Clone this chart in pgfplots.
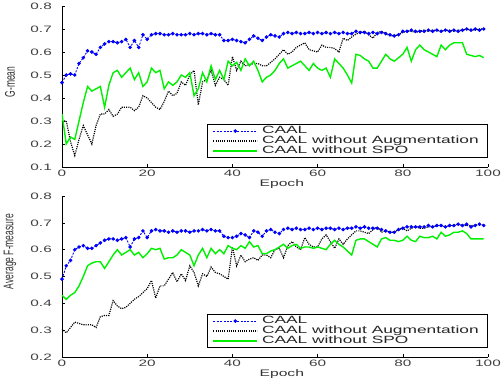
\documentclass[border=0pt]{standalone}
\usepackage{pgfplots}
\usepackage{pgfplotstable}
\pgfplotsset{compat=1.18}
\usepackage{fontspec}
\setmainfont{Liberation Sans}[FakeStretch=1.65]
\newfontfamily\ylabfont{Liberation Sans}
\definecolor{cblue}{RGB}{0,0,255}
\definecolor{cgreen}{RGB}{0,240,0}

\pgfplotstableread{
x y
0 0.467
1 0.50
2 0.505
3 0.50
4 0.55
5 0.575
6 0.605
7 0.60
8 0.59
9 0.62
10 0.635
11 0.645
12 0.645
13 0.64
14 0.645
15 0.655
16 0.62
17 0.65
18 0.62
19 0.675
20 0.655
21 0.675
22 0.68
23 0.68
24 0.675
25 0.675
26 0.68
27 0.675
28 0.675
29 0.675
30 0.68
31 0.675
32 0.68
33 0.68
34 0.675
35 0.68
36 0.675
37 0.675
38 0.65
39 0.65
40 0.655
41 0.65
42 0.645
43 0.64
44 0.655
45 0.67
46 0.66
47 0.65
48 0.665
49 0.675
50 0.67
51 0.665
52 0.68
53 0.685
54 0.68
55 0.685
56 0.68
57 0.68
58 0.685
59 0.68
60 0.685
61 0.68
62 0.685
63 0.68
64 0.685
65 0.68
66 0.685
67 0.68
68 0.68
69 0.69
70 0.685
71 0.685
72 0.68
73 0.685
74 0.68
75 0.685
76 0.68
77 0.675
78 0.67
79 0.675
80 0.69
81 0.69
82 0.695
83 0.69
84 0.69
85 0.69
86 0.695
87 0.69
88 0.695
89 0.69
90 0.695
91 0.69
92 0.695
93 0.69
94 0.695
95 0.70
96 0.695
97 0.70
98 0.695
99 0.70
}\gblue

\pgfplotstableread{
x y
0 0.30
1 0.30
2 0.21
3 0.15
4 0.22
5 0.28
6 0.24
7 0.20
8 0.28
9 0.33
10 0.33
11 0.35
12 0.32
13 0.33
14 0.36
15 0.36
16 0.36
17 0.345
18 0.36
19 0.41
20 0.40
21 0.38
22 0.36
23 0.35
24 0.385
25 0.43
26 0.41
27 0.42
28 0.47
29 0.455
30 0.50
31 0.52
32 0.37
33 0.47
34 0.48
35 0.52
36 0.455
37 0.49
38 0.48
39 0.455
40 0.58
41 0.52
42 0.56
43 0.54
44 0.545
45 0.55
46 0.55
47 0.54
48 0.54
49 0.555
50 0.57
51 0.59
52 0.61
53 0.59
54 0.60
55 0.62
56 0.63
57 0.64
58 0.61
59 0.605
60 0.60
61 0.63
62 0.62
63 0.62
64 0.615
65 0.60
66 0.66
67 0.65
68 0.665
69 0.678
70 0.685
71 0.69
72 0.675
73 0.66
74 0.685
75 0.69
76 0.68
77 0.67
78 0.67
79 0.675
80 0.685
81 0.69
82 0.69
83 0.685
84 0.69
85 0.695
86 0.69
87 0.695
88 0.695
89 0.69
90 0.695
91 0.695
92 0.69
93 0.695
94 0.695
95 0.70
96 0.695
97 0.695
98 0.70
99 0.70
}\gblack

\pgfplotstableread{
x y
0 0.33
1 0.20
2 0.23
3 0.22
4 0.30
5 0.38
6 0.45
7 0.43
8 0.44
9 0.45
10 0.36
11 0.455
12 0.51
13 0.52
14 0.49
15 0.51
16 0.53
17 0.48
18 0.51
19 0.45
20 0.47
21 0.53
22 0.51
23 0.52
24 0.44
25 0.47
26 0.455
27 0.47
28 0.50
29 0.49
30 0.51
31 0.41
32 0.44
33 0.51
34 0.47
35 0.54
36 0.48
37 0.52
38 0.48
39 0.56
40 0.54
41 0.555
42 0.52
43 0.57
44 0.54
45 0.56
46 0.52
47 0.47
48 0.49
49 0.50
50 0.52
51 0.55
52 0.57
53 0.53
54 0.54
55 0.55
56 0.56
57 0.54
58 0.52
59 0.55
60 0.53
61 0.52
62 0.53
63 0.49
64 0.57
65 0.55
66 0.53
67 0.50
68 0.465
69 0.59
70 0.585
71 0.57
72 0.56
73 0.53
74 0.53
75 0.56
76 0.59
77 0.57
78 0.56
79 0.575
80 0.59
81 0.62
82 0.56
83 0.61
84 0.63
85 0.61
86 0.60
87 0.59
88 0.58
89 0.63
90 0.61
91 0.63
92 0.64
93 0.64
94 0.64
95 0.59
96 0.585
97 0.58
98 0.585
99 0.575
}\ggreen

\pgfplotstableread{
x y
0 0.49
1 0.54
2 0.56
3 0.60
4 0.61
5 0.615
6 0.605
7 0.605
8 0.615
9 0.625
10 0.635
11 0.64
12 0.64
13 0.635
14 0.64
15 0.645
16 0.61
17 0.64
18 0.645
19 0.67
20 0.645
21 0.67
22 0.675
23 0.67
24 0.67
25 0.665
26 0.67
27 0.665
28 0.67
29 0.67
30 0.665
31 0.67
32 0.67
33 0.675
34 0.67
35 0.675
36 0.67
37 0.67
38 0.65
39 0.645
40 0.645
41 0.65
42 0.66
43 0.655
44 0.645
45 0.67
46 0.665
47 0.65
48 0.67
49 0.675
50 0.665
51 0.66
52 0.675
53 0.68
54 0.675
55 0.68
56 0.675
57 0.675
58 0.68
59 0.675
60 0.68
61 0.675
62 0.68
63 0.68
64 0.675
65 0.68
66 0.675
67 0.68
68 0.68
69 0.685
70 0.68
71 0.685
72 0.68
73 0.68
74 0.68
75 0.675
76 0.67
77 0.665
78 0.665
79 0.675
80 0.68
81 0.685
82 0.685
83 0.685
84 0.685
85 0.685
86 0.69
87 0.685
88 0.69
89 0.69
90 0.685
91 0.69
92 0.69
93 0.695
94 0.69
95 0.695
96 0.685
97 0.69
98 0.695
99 0.69
}\fblue

\pgfplotstableread{
x y
0 0.305
1 0.29
2 0.31
3 0.33
4 0.325
5 0.32
6 0.32
7 0.32
8 0.31
9 0.35
10 0.355
11 0.355
12 0.41
13 0.39
14 0.38
15 0.385
16 0.40
17 0.415
18 0.425
19 0.44
20 0.455
21 0.485
22 0.42
23 0.465
24 0.465
25 0.49
26 0.515
27 0.48
28 0.51
29 0.485
30 0.54
31 0.515
32 0.465
33 0.51
34 0.50
35 0.535
36 0.515
37 0.51
38 0.50
39 0.49
40 0.61
41 0.54
42 0.58
43 0.555
44 0.565
45 0.57
46 0.56
47 0.58
48 0.58
49 0.57
50 0.60
51 0.605
52 0.57
53 0.615
54 0.63
55 0.61
56 0.60
57 0.645
58 0.62
59 0.61
60 0.61
61 0.64
62 0.655
63 0.63
64 0.605
65 0.64
66 0.62
67 0.64
68 0.655
69 0.67
70 0.67
71 0.665
72 0.66
73 0.675
74 0.685
75 0.665
76 0.67
77 0.665
78 0.665
79 0.675
80 0.68
81 0.67
82 0.68
83 0.685
84 0.68
85 0.68
86 0.685
87 0.685
88 0.69
89 0.69
90 0.685
91 0.69
92 0.69
93 0.695
94 0.69
95 0.69
96 0.69
97 0.69
98 0.695
99 0.69
}\fblack

\pgfplotstableread{
x y
0 0.43
1 0.415
2 0.43
3 0.44
4 0.465
5 0.50
6 0.54
7 0.55
8 0.555
9 0.555
10 0.53
11 0.555
12 0.58
13 0.60
14 0.58
15 0.59
16 0.60
17 0.58
18 0.59
19 0.57
20 0.585
21 0.605
22 0.60
23 0.605
24 0.565
25 0.57
26 0.57
27 0.58
28 0.60
29 0.59
30 0.58
31 0.54
32 0.58
33 0.605
34 0.57
35 0.605
36 0.585
37 0.60
38 0.585
39 0.615
40 0.605
41 0.60
42 0.615
43 0.605
44 0.63
45 0.61
46 0.615
47 0.585
48 0.585
49 0.595
50 0.60
51 0.61
52 0.62
53 0.605
54 0.615
55 0.62
56 0.605
57 0.61
58 0.61
59 0.605
60 0.61
61 0.605
62 0.60
63 0.62
64 0.635
65 0.62
66 0.61
67 0.595
68 0.58
69 0.635
70 0.64
71 0.64
72 0.63
73 0.62
74 0.61
75 0.64
76 0.645
77 0.635
78 0.635
79 0.63
80 0.635
81 0.65
82 0.635
83 0.63
84 0.65
85 0.645
86 0.645
87 0.65
88 0.64
89 0.665
90 0.65
91 0.655
92 0.665
93 0.665
94 0.67
95 0.66
96 0.64
97 0.64
98 0.64
99 0.64
}\fgreen

\pgfplotsset{
  legend image code/.code={\draw[mark repeat=2,mark phase=2,#1] plot coordinates {(0pt,0pt) (22pt,0pt) (44pt,0pt)};},
  sblue/.style={color=cblue, line width=0.9pt, dash pattern=on 2pt off 1.4pt, mark=*, mark size=1.3pt, mark options={solid, fill=cblue}},
  sblack/.style={color=black, line width=1.2pt, dash pattern=on 1.1pt off 1.1pt},
  sgreen/.style={color=cgreen, line width=1.4pt},
  mystyle/.style={
    scale only axis, width=426pt, height=161pt,
    xmin=0, xmax=100, xtick={0,20,...,100},
    axis x line=bottom, axis y line=left,
    x axis line style={-}, y axis line style={-},
    axis line style={line width=0.8pt},
    tick align=inside, major tick length=3pt,
    tick style={line width=0.6pt, black},
    /pgf/number format/assume math mode=true,
    /pgf/number format/fixed,
    /pgf/number format/precision=1,
    tick label style={font=\fontsize{9.3}{10}\selectfont, text=black!75},
    yticklabel style={inner sep=0pt, xshift=-10pt},
    xticklabel style={inner sep=0pt, yshift=-3pt},
    xlabel={Epoch},
    xlabel style={at={(axis description cs:0.516,0)}, anchor=center, yshift=-17.5pt, font=\fontsize{9.5}{10}\selectfont, text=black!80},
    legend style={at={(axis description cs:1,0.056)}, anchor=south east,
      draw=black, line width=0.6pt,
      font=\fontsize{10.5}{11}\selectfont,
      inner xsep=5pt, inner ysep=1pt, row sep=-1.5pt,
      nodes={inner xsep=4pt, inner ysep=1.2pt, text=black!85},
      cells={anchor=west}},
  }
}

\begin{document}
\begin{tikzpicture}
\path[use as bounding box] (0,0) rectangle (504pt,382pt);
\begin{axis}[mystyle, at={(62pt,215pt)}, anchor=south west,
  ymin=0.1, ymax=0.8, ytick={0.1,0.2,...,0.8},
  ylabel={\scalebox{1}[1.65]{\ylabfont\fontsize{8.5}{9}\selectfont G-mean}},
  ylabel style={at={(axis description cs:-0.122,0.528)}, anchor=center, text=black!80}]
\addplot[sblue] table {\gblue};
\addplot[sblack] table {\gblack};
\addplot[sgreen] table {\ggreen};
\legend{CAAL, CAAL without Augmentation, CAAL without SPO}
\end{axis}
\begin{axis}[mystyle, at={(62pt,25pt)}, anchor=south west,
  ymin=0.2, ymax=0.8, ytick={0.2,0.3,...,0.8},
  ylabel={\scalebox{1}[1.65]{\ylabfont\fontsize{8.5}{9}\selectfont Average F-measure}},
  ylabel style={at={(axis description cs:-0.122,0.655)}, anchor=center, text=black!80}]
\addplot[sblue] table {\fblue};
\addplot[sblack] table {\fblack};
\addplot[sgreen] table {\fgreen};
\legend{CAAL, CAAL without Augmentation, CAAL without SPO}
\end{axis}
\end{tikzpicture}
\end{document}
